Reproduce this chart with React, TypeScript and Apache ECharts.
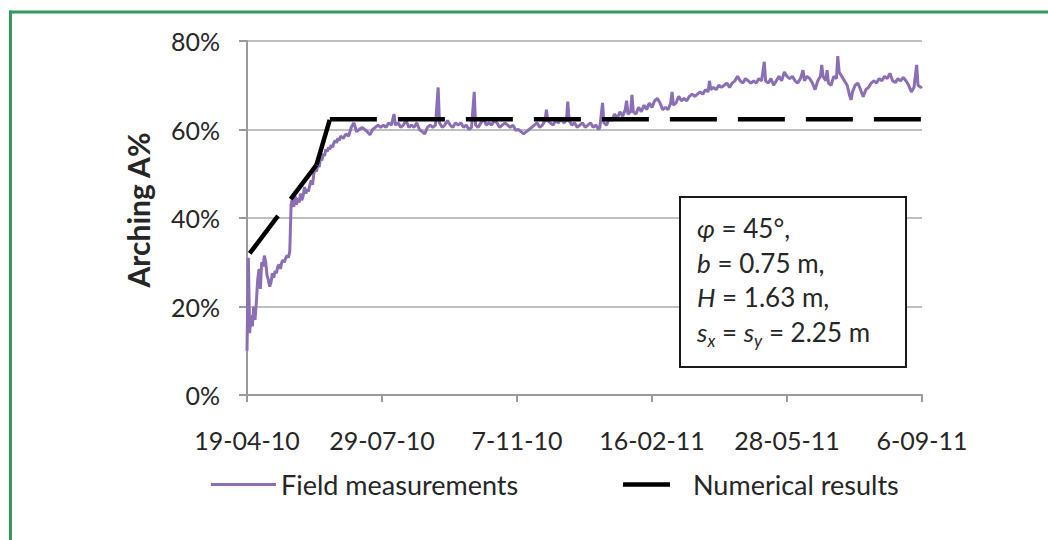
import { useEffect, useRef } from "react";
import * as echarts from "echarts";

// Horizontal axis: days since 19-04-10, one label every 101 days
const tickStepDays = 101;
const dateTickLabels = ["19-04-10", "29-07-10", "7-11-10", "16-02-11", "28-05-11", "6-09-11"];

// Field measurements (day, arching %)
const fieldDays = [
  0, 1, 2, 3, 4, 5, 6, 7, 8, 9, 10, 11, 12, 13, 14, 15, 16, 17, 18, 19,
  20, 21, 22, 23, 24, 25, 26, 27, 28, 29, 30, 31, 32, 33, 34, 35, 36, 37, 38, 39,
  40, 41, 42, 43, 44, 45, 46, 47, 48, 49, 50, 51, 52, 53, 54, 55, 56, 57, 58, 59,
  60, 61, 62, 63, 64, 65, 66, 67, 68, 69, 70, 72, 74, 76, 78, 80, 82, 84, 86, 88,
  90, 92, 94, 96, 98, 100, 102, 104, 106, 108, 110, 111, 113, 115, 117, 119, 121, 123, 125, 127,
  129, 131, 133, 135, 137, 139, 141, 143, 144, 146, 148, 150, 152, 154, 156, 158, 160, 162, 164, 166,
  168, 170, 171, 173, 175, 177, 179, 181, 183, 185, 187, 189, 191, 193, 195, 197, 199, 201, 203, 205,
  207, 209, 211, 213, 215, 217, 219, 221, 223, 224, 225, 227, 229, 231, 233, 235, 237, 239, 240, 241,
  243, 245, 247, 249, 251, 253, 255, 257, 259, 261, 263, 264, 266, 267, 269, 271, 273, 275, 277, 279,
  281, 283, 284, 285, 287, 288, 289, 291, 293, 295, 297, 299, 301, 303, 305, 307, 309, 311, 313, 315,
  317, 318, 319, 321, 323, 325, 327, 329, 331, 333, 335, 337, 339, 341, 343, 345, 346, 347, 349, 351,
  353, 355, 357, 359, 361, 363, 365, 367, 369, 371, 373, 375, 377, 379, 381, 383, 385, 387, 388, 390,
  392, 394, 396, 398, 400, 402, 404, 406, 408, 410, 412, 414, 416, 417, 419, 421, 423, 425, 427, 429,
  430, 431, 433, 434, 435, 437, 439, 441, 442, 443, 445, 447, 449, 451, 452, 453, 455, 457, 459, 461,
  463, 465, 467, 469, 471, 473, 475, 477, 479, 481, 483, 485, 487, 489, 491, 493, 495, 497, 499, 501,
  502, 504, 505,
];
const fieldValues = [
  10, 31, 14, 18, 15.5, 20, 17, 21, 26, 28.5, 24, 30, 29, 31.5, 30, 27, 26, 24.5, 25.5, 27.5,
  26.5, 28, 27.5, 29, 29.5, 28.5, 30, 30.5, 30, 31, 31.5, 31, 32.5, 43, 44.5, 42.5, 45, 43, 44.5, 43.5,
  45.5, 44, 45, 47, 45.5, 46.5, 46, 47.5, 48.5, 47.5, 50, 51, 50.5, 52, 51.5, 53.5, 53, 54.5, 54, 55.5,
  55, 56, 55.5, 56.5, 56, 57, 57.5, 57, 58, 57.5, 58.5, 58, 59, 58.5, 60.5, 61.5, 59.5, 60, 60.5, 60,
  59.5, 58.8, 60, 60.5, 61, 60.5, 61, 60.5, 61.5, 61, 63.5, 61, 61.5, 60.5, 61, 62, 60.5, 61, 60.5, 61.5,
  60, 59.5, 59, 60.5, 61, 60.5, 61, 69.5, 61.5, 60.5, 61, 62, 61, 60.5, 61.5, 61, 61.5, 60.5, 61, 60,
  60.5, 68.5, 61, 60.5, 61.5, 62.5, 61, 61.5, 61, 62, 61.5, 60.5, 61, 61.5, 61, 60.5, 61, 59.8, 60, 59.5,
  59, 59.5, 60, 60.5, 61, 61.5, 60.5, 61, 62, 64.5, 62, 61.5, 61, 62, 61.5, 62.5, 61.5, 62, 66.3, 62,
  61, 61.5, 60.5, 61, 61.5, 60.5, 61, 61.5, 60.5, 61, 60, 60.5, 66, 61.5, 61, 62.5, 62, 63.5, 62.5, 64,
  63, 64.5, 66.5, 63.5, 64, 67.8, 64, 63.5, 65, 64, 65.5, 64.5, 66, 65, 66.5, 67, 66, 64.5, 65, 64.5,
  66, 68.5, 65.5, 66, 67.5, 66.5, 67, 66.5, 67.5, 68, 67.5, 68, 68.5, 68, 69, 68.5, 71, 69, 69.5, 69,
  70, 69.5, 70, 70.5, 69.5, 70.5, 71, 72, 71, 70.5, 71.5, 71, 70.5, 71, 70.5, 71.5, 71, 75.3, 71, 70.5,
  71.5, 70, 71, 72, 71, 73, 72, 71.5, 72, 71, 70.5, 71.5, 73.4, 71, 72, 71.5, 70.5, 69, 71, 72,
  74.6, 72, 71, 73.4, 70.5, 70, 72, 71.5, 76.6, 73, 72, 71, 70, 67.5, 66.7, 68.5, 70, 70.5, 69, 67.4,
  69, 69.5, 70.5, 71, 70.5, 71.5, 71, 72, 71.5, 72.7, 71, 70.6, 71.5, 71, 71.8, 71, 70, 68.5, 69.5, 74.6,
  70, 69.5, 69.7,
];

// Numerical results: vertices of the predicted arching curve
const numericalDays = [2, 52, 62, 505];
const numericalValues = [32, 52, 62.3, 62.3];

const FONT = "Lato, 'Open Sans', sans-serif";
const TEXT_COLOR = "#262626";
const PURPLE = "#8a6fb5";
const GRID_GRAY = "#ababab";
const AXIS_GRAY = "#9a9a9a";
const BORDER_GREEN = "#2f9a5c";
const TICK_SIZE = 25;
const LEGEND_SIZE = 27;

// legend swatches: a thin purple bar, and a single black dash inside the same 65 x 4.5 box
const FIELD_ICON = "path://M0,0.75h65v3h-65zM0,0h0.01v4.5h-0.01z";
const NUMERICAL_ICON = "path://M0,0h47v4.5h-47zM64.99,0h0.01v0.01h-0.01z";

type Piece = { t: string; italic?: boolean; sub?: boolean };
const boxLines: Piece[][] = [
  [{ t: "φ", italic: true }, { t: " = 45°," }],
  [{ t: "b", italic: true }, { t: " = 0.75 m," }],
  [{ t: "H", italic: true }, { t: " = 1.63 m," }],
  [
    { t: "s", italic: true },
    { t: "x", italic: true, sub: true },
    { t: " = " },
    { t: "s", italic: true },
    { t: "y", italic: true, sub: true },
    { t: " = 2.25 m" },
  ],
];

let measureCtx: CanvasRenderingContext2D | null = null;
function textWidth(text: string, size: number, italic = false, weight = "normal") {
  if (!measureCtx) measureCtx = document.createElement("canvas").getContext("2d");
  if (!measureCtx) return text.length * size * 0.5;
  measureCtx.font = `${italic ? "italic " : ""}${weight} ${size}px ${FONT}`;
  return measureCtx.measureText(text).width;
}

function buildBoxText() {
  const left = 697;
  const lineYs = [228, 263, 297, 332];
  const mainSize = 26;
  const subSize = 17;
  const els: any[] = [];
  boxLines.forEach((line, li) => {
    let x = left;
    line.forEach((p) => {
      const size = p.sub ? subSize : mainSize;
      els.push({
        type: "text",
        x,
        y: lineYs[li] + (p.sub ? 8 : 0),
        z: 101,
        style: {
          text: p.t,
          fontFamily: FONT,
          fontSize: size,
          fontStyle: p.italic ? "italic" : "normal",
          fill: TEXT_COLOR,
          align: "left",
          verticalAlign: "middle",
        },
      });
      x += textWidth(p.t, size, !!p.italic);
    });
  });
  return els;
}

export default function App() {
  const ref = useRef<HTMLDivElement>(null);

  useEffect(() => {
    if (!ref.current) return;
    const chart = echarts.init(ref.current, undefined, { renderer: "svg" });

    const fieldData = fieldDays.map((d, i) => [d, fieldValues[i]]);

    // each straight stretch of the prediction is its own stroke so its dash pattern restarts
    const numericalSeries = numericalDays.slice(1).map((d, i) => ({
      name: "Numerical results",
      type: "line",
      data: [
        [numericalDays[i], numericalValues[i]],
        [d, numericalValues[i + 1]],
      ],
      symbol: "none",
      z: 3,
      lineStyle: { color: "#000", width: 4.5, type: [47, 21], cap: "butt" },
      itemStyle: { color: "#000" },
    }));

    const legendTextStart = 206 + 65 + 5;
    const legendGap = 618 - legendTextStart - textWidth("Field measurements", LEGEND_SIZE);

    chart.setOption({
      animation: false,
      textStyle: { fontFamily: FONT },
      grid: { left: 247, right: 126, top: 41, bottom: 145, containLabel: false },
      xAxis: {
        type: "value",
        min: 0,
        max: tickStepDays * (dateTickLabels.length - 1),
        interval: tickStepDays,
        splitLine: { show: false },
        axisLine: { lineStyle: { color: AXIS_GRAY, width: 2 } },
        axisTick: { show: true, length: 7, lineStyle: { color: AXIS_GRAY, width: 2 } },
        axisLabel: {
          color: TEXT_COLOR,
          fontSize: TICK_SIZE,
          fontFamily: FONT,
          margin: 32,
          formatter: (v: number) => dateTickLabels[Math.round(v / tickStepDays)] ?? "",
        },
      },
      yAxis: {
        type: "value",
        min: 0,
        max: 80,
        interval: 20,
        name: "Arching A%",
        nameLocation: "middle",
        nameGap: 94,
        nameTextStyle: {
          fontSize: 30,
          fontWeight: "bold",
          color: TEXT_COLOR,
          fontFamily: FONT,
          padding: [0, 0, 0, 16],
        },
        axisLine: { show: true, lineStyle: { color: AXIS_GRAY, width: 2 } },
        axisTick: { show: true, length: 8, lineStyle: { color: AXIS_GRAY, width: 2 } },
        splitLine: { lineStyle: { color: GRID_GRAY, width: 1.5 } },
        axisLabel: {
          color: TEXT_COLOR,
          fontSize: TICK_SIZE,
          fontFamily: FONT,
          margin: 27,
          formatter: "{value}%",
        },
      },
      legend: {
        left: 206,
        top: 466,
        itemWidth: 65,
        itemHeight: 4.5,
        itemGap: legendGap,
        itemStyle: { borderWidth: 0 },
        textStyle: { fontSize: LEGEND_SIZE, color: TEXT_COLOR, fontFamily: FONT },
        data: [
          { name: "Field measurements", icon: FIELD_ICON },
          { name: "Numerical results", icon: NUMERICAL_ICON },
        ],
      },
      series: [
        {
          name: "Field measurements",
          type: "line",
          data: fieldData,
          symbol: "none",
          z: 2,
          lineStyle: { color: PURPLE, width: 3 },
          itemStyle: { color: PURPLE },
        },
        ...numericalSeries,
      ],
      graphic: [
        {
          type: "line",
          z: 100,
          shape: { x1: 9, y1: 12, x2: 1048, y2: 12 },
          style: { stroke: BORDER_GREEN, lineWidth: 3 },
        },
        {
          type: "line",
          z: 100,
          shape: { x1: 10.5, y1: 10.5, x2: 10.5, y2: 540 },
          style: { stroke: BORDER_GREEN, lineWidth: 3 },
        },
        {
          type: "rect",
          z: 100,
          shape: { x: 680, y: 197, width: 226, height: 170 },
          style: { fill: "#fff", stroke: "#1a1a1a", lineWidth: 2 },
        },
        ...buildBoxText(),
      ],
    });

    return () => chart.dispose();
  }, []);

  return (
    <div
      ref={ref}
      style={{ position: "fixed", left: 0, top: 0, width: 1048, height: 540, background: "#fff" }}
    />
  );
}
